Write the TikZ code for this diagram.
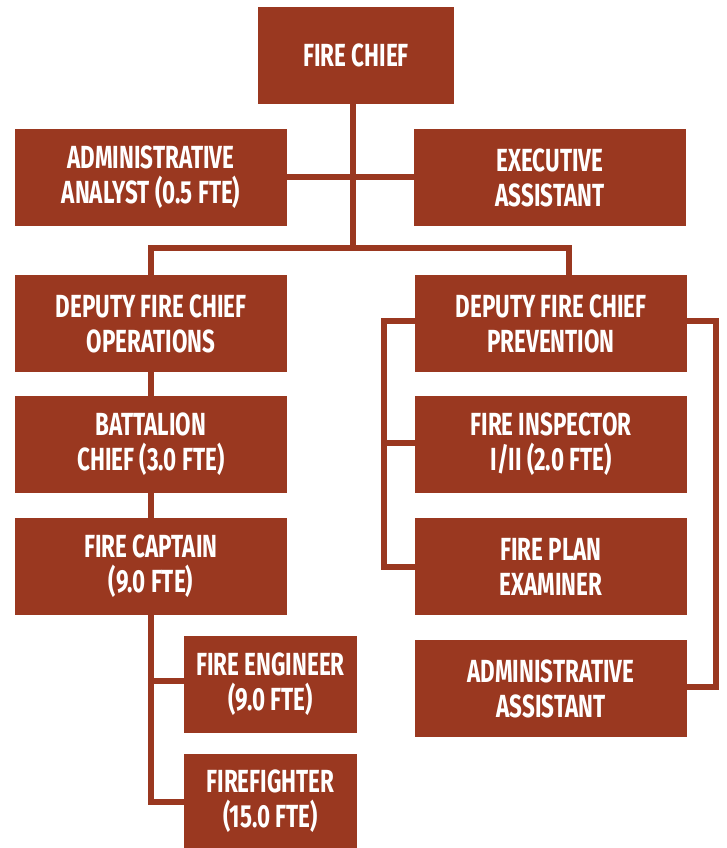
\documentclass[tikz,border=0pt]{standalone}
\usepackage{fontspec}
\setmainfont{Fira Sans}[FakeStretch=0.7]
\definecolor{rust}{HTML}{9A3820}
\begin{document}
\begin{tikzpicture}[x=1pt,y=-1pt,
  box/.style={fill=rust, text=white, inner sep=0pt, align=center,
    minimum width=272pt, minimum height=96pt,
    font=\fontsize{32}{35}\selectfont\bfseries},
  smallbox/.style={box, minimum width=173pt},
  conn/.style={draw=rust, line width=5.5pt}]
\useasboundingbox (0,0) rectangle (727,848);
\node[box, minimum width=196pt, minimum height=97pt] (fc) at (356,55.5) {FIRE CHIEF};
\node[box] (aa) at (151,177.5) {ADMINISTRATIVE\\ANALYST (0.5 FTE)};
\node[box] (ea) at (550,177.5) {EXECUTIVE\\ASSISTANT};
\node[box, minimum height=97pt] (dops) at (151,323.5) {DEPUTY FIRE CHIEF\\OPERATIONS};
\node[box, minimum height=97pt] (dprev) at (551,323.5) {DEPUTY FIRE CHIEF\\PREVENTION};
\node[box, minimum height=97pt] (bc) at (151,444.5) {BATTALION\\CHIEF (3.0 FTE)};
\node[box, minimum height=97pt] (fi) at (551,444.5) {FIRE INSPECTOR\\I/II (2.0 FTE)};
\node[box, minimum height=97pt] (fcap) at (151,566.5) {FIRE CAPTAIN\\(9.0 FTE)};
\node[box, minimum height=97pt] (fpe) at (551,566.5) {FIRE PLAN\\EXAMINER};
\node[smallbox, minimum height=97pt] (fe) at (270.5,684.5) {FIRE ENGINEER\\(9.0 FTE)};
\node[box, minimum height=97pt] (aas) at (551,688.5) {ADMINISTRATIVE\\ASSISTANT};
\node[smallbox, minimum height=96pt] (ff) at (270.5,801.5) {FIREFIGHTER\\(15.0 FTE)};
% coordinates for connector joints
\coordinate (top) at (353,104);
\coordinate (hub) at (353,248);
\coordinate (lL) at (151,248);
\coordinate (lR) at (569,248);
\coordinate (bL) at (384,321);
\coordinate (bR) at (716,321);
\draw[conn] (top) -- (hub);
\draw[conn] (aa.east |- 0,177) -- (ea.west |- 0,177);
\draw[conn] (dops.north -| lL) -- (lL) -- (lR) -- (dprev.north -| lR);
\draw[conn] (dops.south -| lL) -- (bc.north -| lL);
\draw[conn] (bc.south -| lL) -- (fcap.north -| lL);
\draw[conn] (fcap.south -| lL) -- (151,802) -- (ff.west |- 0,802);
\draw[conn] (151,681) -- (fe.west |- 0,681);
\draw[conn] (dprev.west |- bL) -- (bL) -- (384,567) -- (fpe.west |- 0,567);
\draw[conn] (384,443) -- (fi.west |- 0,443);
\draw[conn] (dprev.east |- bR) -- (bR) -- (716,687) -- (aas.east |- 0,687);
\end{tikzpicture}
\end{document}
